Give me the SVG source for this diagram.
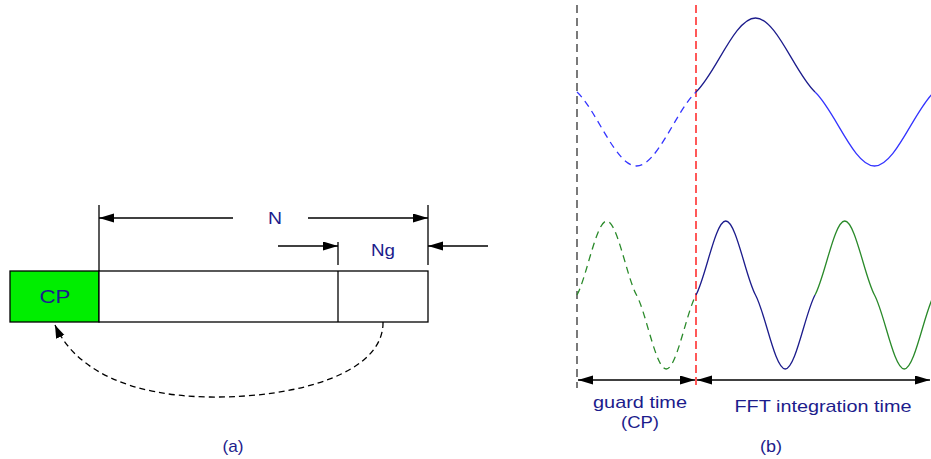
<svg xmlns="http://www.w3.org/2000/svg" width="931" height="459" viewBox="0 0 931 459">
<style>
.t{font-family:"Liberation Sans",Arial,sans-serif;font-size:17px;fill:#1c1c8c;text-anchor:middle}
.ln{stroke:#000;stroke-width:1.3;fill:none}
.box{stroke:#000;stroke-width:1.3}
.w{fill:none;stroke-width:1.3}
</style>
<defs>
<marker id="ah" markerUnits="userSpaceOnUse" markerWidth="16" markerHeight="10" refX="15" refY="4.5" orient="auto-start-reverse">
<path d="M0,0 L15,4.5 L0,9 z" fill="#000"/>
</marker>
<marker id="ah2" markerUnits="userSpaceOnUse" markerWidth="14" markerHeight="10" refX="13" refY="4.5" orient="auto">
<path d="M0,0 L13,4.5 L0,9 z" fill="#000"/>
</marker>
</defs>
<rect width="931" height="459" fill="#fff"/>
<g id="cp-box">
<rect class="box" x="10" y="271" width="89" height="51" fill="#00ee00"/>
<text class="t" x="55" y="303" style="font-size:18px" textLength="31" lengthAdjust="spacingAndGlyphs">CP</text>
</g>
<g id="symbol-box">
<rect class="box" x="99" y="271" width="329" height="51" fill="#fff"/>
<line class="ln" x1="338" y1="271" x2="338" y2="322"/>
</g>
<g id="labels-a">
<text class="t" x="275" y="224" textLength="14" lengthAdjust="spacingAndGlyphs">N</text>
<text class="t" x="383" y="256" textLength="24" lengthAdjust="spacingAndGlyphs">Ng</text>
<text class="t" x="233" y="452" textLength="21" lengthAdjust="spacingAndGlyphs">(a)</text>
</g>
<g id="labels-b">
<text class="t" x="640" y="408" textLength="94" lengthAdjust="spacingAndGlyphs">guard time</text>
<text class="t" x="640" y="428" textLength="38" lengthAdjust="spacingAndGlyphs">(CP)</text>
<text class="t" x="823" y="412" textLength="177" lengthAdjust="spacingAndGlyphs">FFT integration time</text>
<text class="t" x="771" y="452" textLength="22" lengthAdjust="spacingAndGlyphs">(b)</text>
</g>
<g id="connectors">
<line class="ln" x1="99" y1="205" x2="99" y2="271"/>
<line class="ln" x1="428" y1="205" x2="428" y2="265"/>
<line class="ln" x1="338" y1="242" x2="338" y2="265"/>
<line class="ln" x1="233" y1="218" x2="99" y2="218" marker-end="url(#ah)"/>
<line class="ln" x1="308" y1="218" x2="428" y2="218" marker-end="url(#ah)"/>
<line class="ln" x1="278" y1="246" x2="338" y2="246" marker-end="url(#ah)"/>
<line class="ln" x1="488" y1="246" x2="428" y2="246" marker-end="url(#ah)"/>
<path class="ln" d="M383,322 C384,372 300,398 210,397 C130,396 75,370 55,325" stroke-dasharray="6,4" marker-end="url(#ah2)"/>
<line x1="577" y1="5" x2="577" y2="388" stroke="#333" stroke-width="1.3" stroke-dasharray="8,5"/>
<line x1="696" y1="5" x2="696" y2="388" stroke="#ff0000" stroke-width="1.3" stroke-dasharray="8,4"/>
<line class="ln" x1="578" y1="380" x2="695" y2="380" marker-start="url(#ah)" marker-end="url(#ah)"/>
<line class="ln" x1="697" y1="380" x2="930" y2="380" marker-start="url(#ah)" marker-end="url(#ah)"/>
</g>
<g id="wave-top">
<path class="w" stroke="#3333ff" stroke-dasharray="7,5" d="M577,92 C596.6,110 615.7,166 636.5,166 C657.3,166 676.4,110 696,92"/>
<path class="w" stroke="#1c1c8c" d="M696,92 C715.6,74 734.7,18 755.5,18 C776.3,18 795.4,74 815,92"/>
<path class="w" stroke="#3333ff" d="M815,92 C834.6,110 853.7,166 874.5,166 C895.3,166 914.4,110 934,92"/>
</g>
<g id="wave-bottom">
<path class="w" stroke="#2a8a2a" stroke-dasharray="7,5" d="M577,295 C586.8,277 596.3,221 606.75,221 C617.2,221 626.7,277 636.5,295 C646.3,313 655.8,369 666.25,369 C676.7,369 686.2,313 696,295"/>
<path class="w" stroke="#1c1c8c" d="M696,295 C705.8,277 715.3,221 725.75,221 C736.2,221 745.7,277 755.5,295 C765.3,313 774.8,369 785.25,369 C795.7,369 805.2,313 815,295"/>
<path class="w" stroke="#2a8a2a" d="M815,295 C824.8,277 834.3,221 844.75,221 C855.2,221 864.7,277 874.5,295 C884.3,313 893.8,369 904.25,369 C914.7,369 924.2,313 934,295"/>
</g>
</svg>
